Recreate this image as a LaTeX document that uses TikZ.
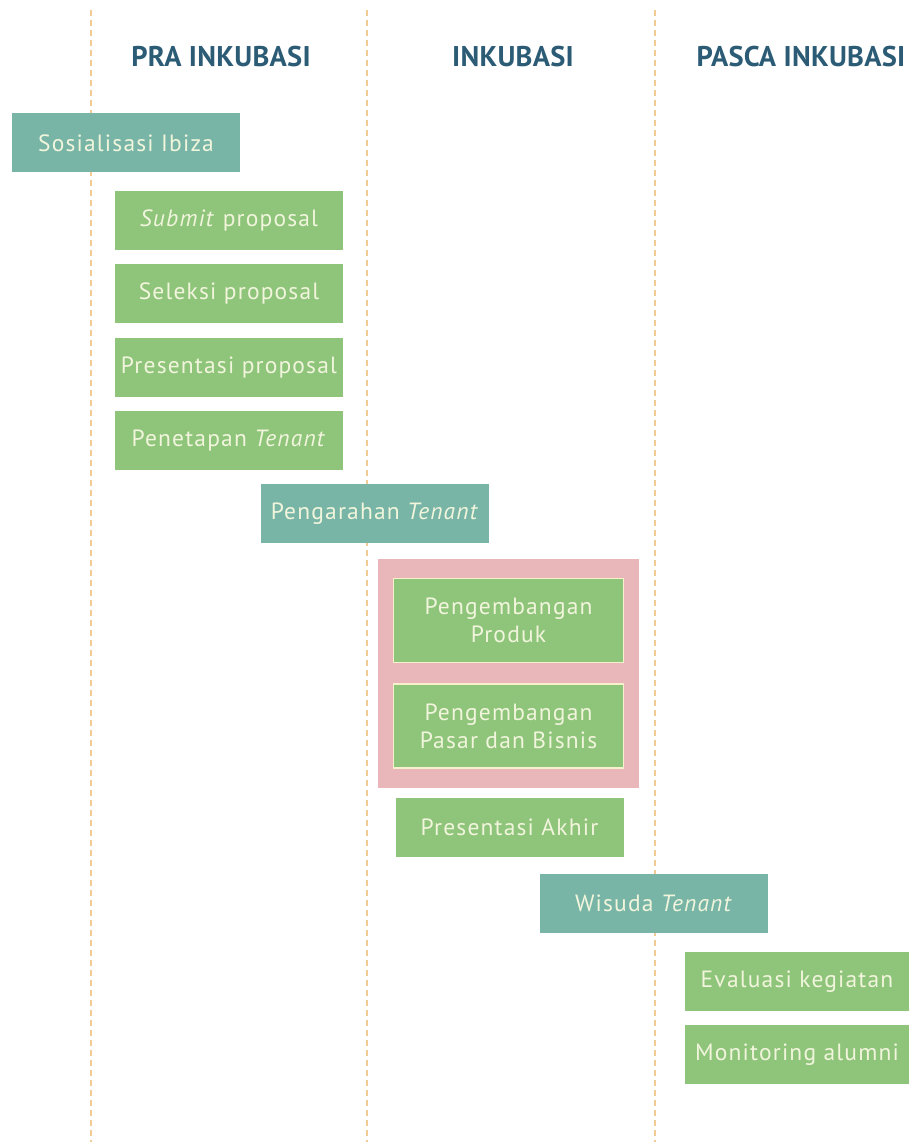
\documentclass[tikz,border=0pt]{standalone}
\usepackage{fontspec}
\setmainfont{PT Sans}
\newfontfamily\stagefont[LetterSpace=5]{PT Sans}
\newfontfamily\phasefont[LetterSpace=1]{PT Sans}
\usetikzlibrary{positioning, fit, backgrounds}
\definecolor{tealfill}{HTML}{79B5A7}
\definecolor{greenfill}{HTML}{8FC47B}
\definecolor{pinkfill}{HTML}{E9B6BA}
\definecolor{cream}{HTML}{F1F5DC}
\definecolor{creamline}{HTML}{F6F1CC}
\definecolor{phaseblue}{HTML}{2C5C75}
\definecolor{laneorange}{HTML}{F2CB94}

\begin{document}
\begin{tikzpicture}[x=1pt,y=-1pt,
        lane/.style={draw=laneorange, dash pattern=on 6pt off 4pt, line width=1.2pt},
        phase/.style={font=\phasefont\fontsize{28.5}{32}\selectfont\bfseries, text=phaseblue},
        stage/.style={minimum width=228pt, minimum height=59pt, inner sep=0pt,
            text=cream, align=center, font=\stagefont\fontsize{23.5}{28}\selectfont},
        tealbox/.style={stage, fill=tealfill},
        greenbox/.style={stage, fill=greenfill},
        devbox/.style={greenbox, draw=creamline, line width=1.5pt,
            minimum width=230pt, minimum height=84pt}
        ]
        \useasboundingbox (0,0) rectangle (909,1142);

        % lanes between the phases
        \foreach \x in {91,367,655}
            \draw[lane] (\x,10) -- (\x,1142);

        \node[phase] (pra)   at (221,57) {PRA INKUBASI};
        \node[phase] (inku)  at (513,57) {INKUBASI};
        \node[phase] (pasca) at (801,57) {PASCA INKUBASI};

        % pra inkubasi
        \node[tealbox]  (sosial) at (126,143) {Sosialisasi Ibiza};
        \node[greenbox] (submit) at (229,220.5) {\textit{Submit} proposal};
        \node[greenbox] (seleksi) [below=14pt of submit] {Seleksi proposal};
        \node[greenbox] (presprop) [below=14pt of seleksi] {Presentasi proposal};
        \node[greenbox] (tetap) [below=14pt of presprop] {Penetapan \textit{Tenant}};

        % inkubasi
        \node[tealbox]  (arah) at (375,513.5) {Pengarahan \textit{Tenant}};
        \node[devbox]   (produk) at (508.5,620.5) {Pengembangan\\Produk};
        \node[devbox]   (pasar) [below=20pt of produk] {Pengembangan\\Pasar dan Bisnis};
        \node[greenbox] (akhir) at (509.5,827.5) {Presentasi Akhir};
        \begin{scope}[on background layer]
            \node[fill=pinkfill, inner xsep=15pt, inner ysep=19pt, fit=(produk)(pasar)] (kembang) {};
        \end{scope}

        % pasca inkubasi
        \node[tealbox]  (wisuda) at (654,903.5) {Wisuda \textit{Tenant}};
        \node[greenbox, minimum width=224pt] (evaluasi) at (797,981.5) {Evaluasi kegiatan};
        \node[greenbox, minimum width=224pt] (alumni) [below=14pt of evaluasi] {Monitoring alumni};
      \end{tikzpicture}
\end{document}
